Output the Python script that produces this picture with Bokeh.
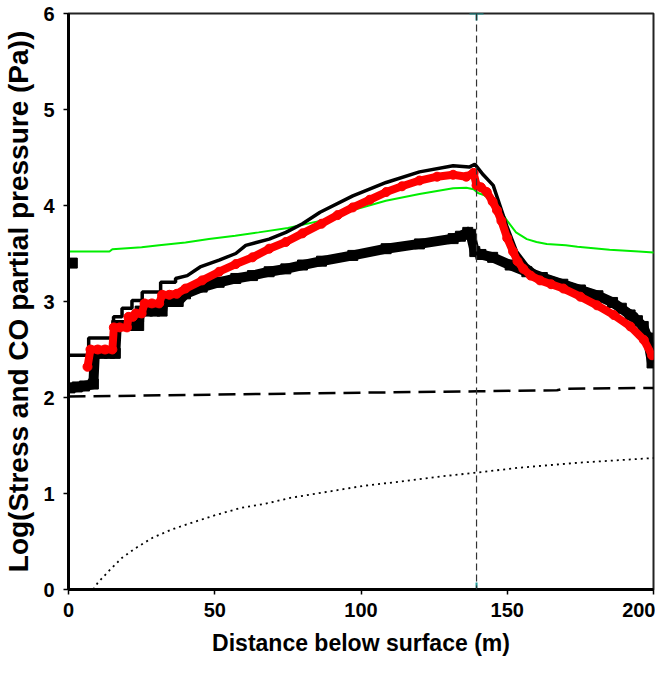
from bokeh.plotting import figure
from bokeh.models import Range1d, FixedTicker, Span
from bokeh.embed import file_html
from bokeh.resources import INLINE

# ---- data ----
# green line
x_green = [0, 14, 15, 25, 31, 40, 48, 57, 65, 75, 86, 97, 108.5, 120, 131.5, 136, 138.5, 140, 142, 145, 148, 150, 153, 156.7, 160, 163.5, 170, 174, 185, 195, 200, 202.5]
y_green = [3.52, 3.52, 3.545, 3.565, 3.585, 3.615, 3.65, 3.685, 3.72, 3.765, 3.84, 3.95, 4.05, 4.12, 4.18, 4.185, 4.17, 4.13, 4.11, 4.04, 3.93, 3.84, 3.72, 3.65, 3.62, 3.60, 3.585, 3.57, 3.54, 3.52, 3.51, 3.50]

# upper black line
x_upper = [0, 6.9, 6.9, 15.4, 15.4, 18.3, 18.3, 21.7, 21.7, 25.2, 25.2, 31.5, 31.5, 36.6, 36.6, 40.6, 45, 51.5, 57.2, 60.6, 68.6, 74.3, 80, 86, 97.2, 108.6, 120, 131.5, 137, 138.9, 141.8, 145.2, 147.5, 149.8, 153.2, 156.7, 160, 170, 180, 188, 194, 198, 199.5]
y_upper = [2.44, 2.44, 2.62, 2.62, 2.84, 2.84, 2.93, 2.93, 3.01, 3.01, 3.10, 3.10, 3.20, 3.20, 3.24, 3.27, 3.36, 3.43, 3.50, 3.585, 3.65, 3.72, 3.81, 3.93, 4.10, 4.24, 4.35, 4.415, 4.40, 4.43, 4.32, 4.21, 4.00, 3.79, 3.52, 3.38, 3.30, 3.20, 3.10, 2.97, 2.87, 2.70, 2.55]

# red circles
x_red = [6.5, 7.5, 10, 12.5, 15, 15.5, 17.5, 20, 20.5, 22, 23, 25, 26, 28.5, 31, 32, 34.5, 37, 40, 45.7, 51.5, 57.2, 62.9, 68.6, 74.3, 80, 86.5, 92, 97.2, 103, 108.6, 114, 120, 126, 131.5, 136, 138.5, 139.5, 141, 143, 145, 146.5, 148, 150, 152, 153.5, 155.5, 158, 161.2, 165, 169.2, 175, 180.7, 186.4, 192.1, 196.7, 199.5]
y_red = [2.32, 2.50, 2.50, 2.50, 2.50, 2.73, 2.73, 2.73, 2.84, 2.84, 2.875, 2.875, 2.98, 2.98, 2.98, 3.07, 3.07, 3.08, 3.135, 3.22, 3.31, 3.39, 3.46, 3.55, 3.62, 3.71, 3.81, 3.90, 3.98, 4.06, 4.14, 4.20, 4.26, 4.30, 4.32, 4.30, 4.34, 4.21, 4.19, 4.14, 4.04, 3.95, 3.84, 3.66, 3.52, 3.42, 3.34, 3.27, 3.22, 3.18, 3.135, 3.05, 2.96, 2.86, 2.74, 2.60, 2.44]

# lower black squares
x_lower = [0.5, 3, 5.5, 8.5, 9, 11.5, 14, 16, 16.5, 19, 21.5, 24, 24.5, 27, 29.5, 32, 32.5, 35, 37.5, 40, 45.7, 51.5, 57.2, 62.9, 68.6, 74.3, 80, 86.5, 97.2, 108.6, 120, 131.5, 134, 136.5, 137.5, 138.9, 141, 145, 151, 156.7, 162, 169, 175, 181, 186, 189, 192, 194.5, 196.5, 198, 199.5]
y_lower = [2.10, 2.11, 2.12, 2.14, 2.46, 2.46, 2.46, 2.46, 2.75, 2.75, 2.75, 2.75, 2.90, 2.90, 2.90, 2.90, 3.00, 3.00, 3.00, 3.08, 3.15, 3.20, 3.24, 3.27, 3.31, 3.34, 3.38, 3.42, 3.48, 3.55, 3.60, 3.655, 3.68, 3.72, 3.70, 3.52, 3.49, 3.46, 3.38, 3.31, 3.25, 3.18, 3.12, 3.06, 2.99, 2.93, 2.86, 2.80, 2.74, 2.62, 2.36]
x_lower_first = [1.3]
y_lower_first = [3.40]

# dashed line
x_dash = [0, 50, 100, 140, 167, 169, 200, 203]
y_dash = [2.01, 2.03, 2.05, 2.065, 2.075, 2.09, 2.10, 2.10]

# dotted line
x_dot = [8.5, 10, 13.7, 18.3, 22.9, 28.8, 35.3, 40.6, 49.7, 58.9, 66.8, 75.9, 89, 100.8, 115.2, 128, 138.7, 154.5, 174, 200, 202]
y_dot = [0.0, 0.07, 0.19, 0.33, 0.43, 0.54, 0.625, 0.68, 0.77, 0.85, 0.89, 0.955, 1.02, 1.08, 1.13, 1.18, 1.215, 1.27, 1.32, 1.37, 1.375]

# vertical marker line
x_vline = 139.5
y_vline_ends = [0, 6]

x_ticks = [0, 50, 100, 150, 200]
y_ticks = [0, 1, 2, 3, 4, 5, 6]

FONT = "Liberation Sans"

p = figure(width=655, height=659, x_range=Range1d(0, 200), y_range=Range1d(0, 6),
           output_backend="svg", toolbar_location=None,
           min_border_left=65, min_border_right=2, min_border_top=13, min_border_bottom=70)

p.xgrid.grid_line_color = None
p.ygrid.grid_line_color = None
p.outline_line_color = "#222222"
p.outline_line_width = 2
p.background_fill_color = "white"
p.border_fill_color = "white"

for ax in (p.xaxis[0], p.yaxis[0]):
    ax.axis_line_width = 3
    ax.axis_line_color = "black"
    ax.major_tick_in = 0
    ax.major_tick_out = 5
    ax.major_tick_line_width = 1.5
    ax.minor_tick_line_color = None
    ax.major_label_text_font = FONT
    ax.major_label_text_font_style = "bold"
    ax.major_label_text_font_size = "20px"
    ax.major_label_text_color = "black"
    ax.axis_label_text_font = FONT
    ax.axis_label_text_font_style = "bold"
    ax.axis_label_text_color = "black"

p.xaxis.ticker = FixedTicker(ticks=x_ticks)
p.yaxis.ticker = FixedTicker(ticks=y_ticks)
p.xaxis.axis_label = "Distance below surface (m)"
p.yaxis.axis_label = "Log(Stress and CO partial pressure (Pa))"
p.xaxis.axis_label_text_font_size = "23px"
p.yaxis.axis_label_text_font_size = "28px"
p.xaxis.major_label_standoff = 8
p.yaxis.major_label_standoff = 9
p.xaxis.axis_label_standoff = 10
p.yaxis.axis_label_standoff = 6

# lines
p.line(x_dash, y_dash, line_color="black", line_width=2.5, line_dash="17 8")
p.line(x_dot, y_dot, line_color="black", line_width=1.8, line_dash="2 4")
p.add_layout(Span(location=x_vline, dimension="height", line_color="#333333",
                  line_width=1.2, line_dash="7 4"))

p.line(x_green, y_green, line_color="#00ee00", line_width=2)

p.line(x_lower, y_lower, line_color="black", line_width=10, line_join="miter")
p.scatter(x_lower, y_lower, marker="square", size=10, color="black")
p.scatter(x_lower_first, y_lower_first, marker="square", size=10, color="black")

p.line(x_upper, y_upper, line_color="black", line_width=3.5)

p.line(x_red, y_red, line_color="#ff0000", line_width=8, line_join="round", line_cap="round")
p.scatter(x_red, y_red, marker="circle", size=9, color="#ff0000")

p.scatter([x_vline, x_vline], y_vline_ends, marker="cross", size=14,
          line_color="#1f9a9a", line_width=2)

open("out.html", "w").write(file_html(p, INLINE))
